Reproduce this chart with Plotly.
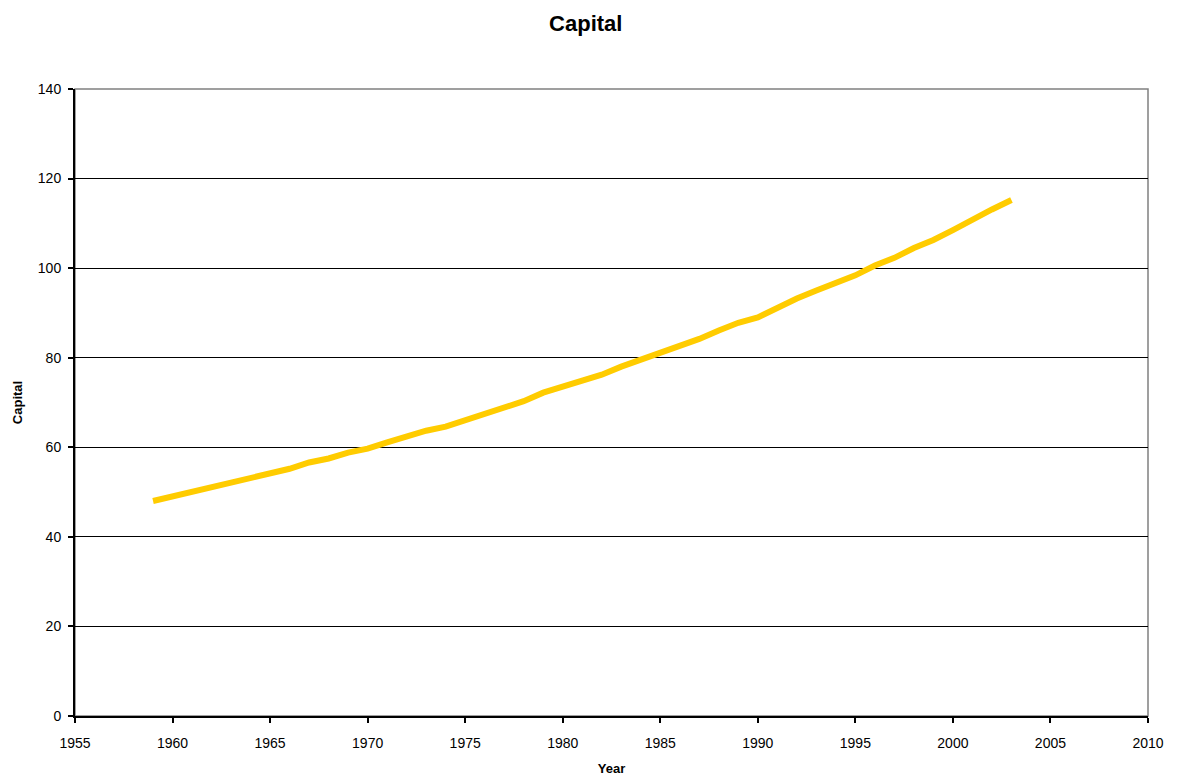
import plotly.graph_objects as go

# Capital stock by year
years = list(range(1959, 2004))
capital = [
    48.0, 49.0, 50.3, 51.2, 52.2, 53.1, 54.3, 55.2, 56.6, 57.5,
    58.8, 59.7, 61.1, 62.4, 63.7, 64.6, 66.1, 67.5, 68.9, 70.3,
    72.2, 73.5, 74.8, 76.2, 78.0, 79.5, 81.0, 82.4, 84.2, 86.1,
    87.8, 89.0, 91.2, 93.2, 95.0, 96.7, 98.4, 100.6, 102.3, 104.5,
    106.3, 108.5, 110.9, 113.1, 115.2,
]

font = "Liberation Sans, Arial, sans-serif"

fig = go.Figure()
fig.add_trace(go.Scatter(
    x=years, y=capital, mode="lines",
    line=dict(color="#FFCC00", width=6),
    showlegend=False,
))

# Gray frame on the top and right of the plot area
fig.add_shape(type="rect", xref="paper", yref="paper", x0=0, x1=1, y0=0, y1=1,
              line=dict(color="#808080", width=1.5), layer="below")

fig.update_layout(
    width=1181, height=782,
    margin=dict(l=75, r=33, t=89, b=66),
    paper_bgcolor="white", plot_bgcolor="white",
    font=dict(family=font, size=14, color="black"),
    title=dict(text="<b>Capital</b>", x=0.496, xanchor="center", y=0.970, yanchor="middle",
               font=dict(family=font, size=22, color="black")),
    xaxis=dict(
        range=[1955, 2010], tickmode="linear", tick0=1955, dtick=5,
        showgrid=False, zeroline=False, automargin=False,
        showline=True, linecolor="black", linewidth=2,
        ticks="outside", ticklen=5, tickwidth=1.5, tickcolor="black",
        ticklabelstandoff=8,
        tickfont=dict(family=font, size=14),
        title=dict(text="<b>Year</b>", font=dict(family=font, size=13), standoff=14),
    ),
    yaxis=dict(
        range=[0, 140], tickmode="linear", tick0=0, dtick=20,
        showgrid=True, gridcolor="black", gridwidth=1, zeroline=False, automargin=False,
        showline=True, linecolor="black", linewidth=2,
        ticks="outside", ticklen=5, tickwidth=1.5, tickcolor="black",
        ticklabelstandoff=4,
        tickfont=dict(family=font, size=14),
        title=dict(text="<b>Capital</b>", font=dict(family=font, size=13), standoff=12),
    ),
)

fig.write_html("out.html")
